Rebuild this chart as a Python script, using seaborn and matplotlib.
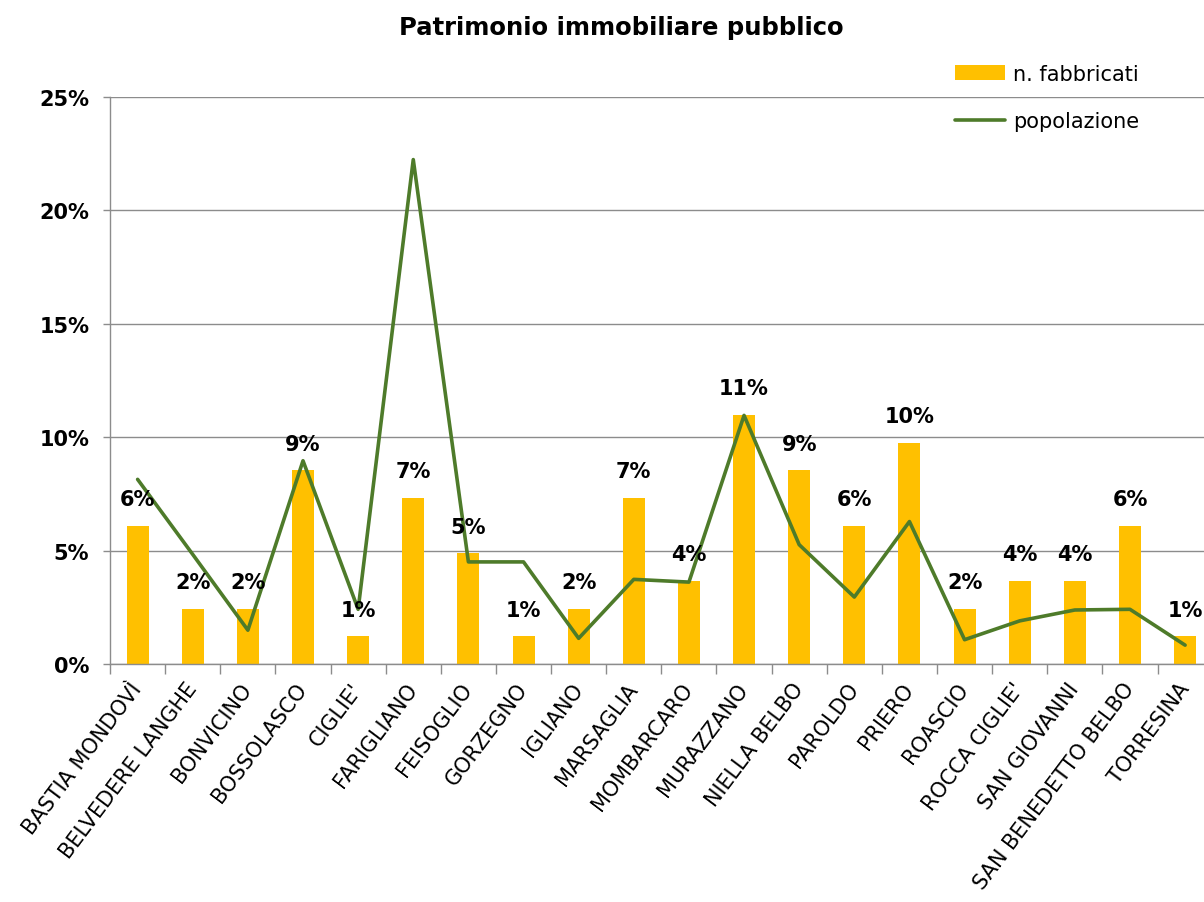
import numpy as np
import pandas as pd
import matplotlib
matplotlib.use("Agg")
import matplotlib.pyplot as plt
import seaborn as sns
from matplotlib.patches import Patch
from matplotlib.lines import Line2D

# ---- data (percent shares) ----
comuni = ["BASTIA MONDOVÌ", "BELVEDERE LANGHE", "BONVICINO", "BOSSOLASCO",
          "CIGLIE'", "FARIGLIANO", "FEISOGLIO", "GORZEGNO", "IGLIANO",
          "MARSAGLIA", "MOMBARCARO", "MURAZZANO", "NIELLA BELBO", "PAROLDO",
          "PRIERO", "ROASCIO", "ROCCA CIGLIE'", "SAN GIOVANNI",
          "SAN BENEDETTO BELBO", "TORRESINA"]
fabbricati = [6.10, 2.44, 2.44, 8.54, 1.22, 7.32, 4.88, 1.22, 2.44, 7.32,
              3.66, 10.98, 8.54, 6.10, 9.76, 2.44, 3.66, 3.66, 6.10, 1.22]
popolazione = [8.14, 4.83, 1.49, 8.96, 2.41, 22.24, 4.50, 4.50, 1.13, 3.73,
               3.61, 10.96, 5.26, 2.95, 6.28, 1.07, 1.90, 2.38, 2.41, 0.83]
y_ticks = [0, 5, 10, 15, 20, 25]

BAR_COL = "#FFC000"
LINE_COL = "#4E7B2A"
GRID_COL = "#8C8C8C"

sns.set_theme(style="white")
plt.rcParams["font.family"] = ["DejaVu Sans"]
plt.rcParams["text.color"] = "black"
plt.rcParams["xtick.color"] = "black"
plt.rcParams["ytick.color"] = "black"

df = pd.DataFrame({"comune": comuni, "fabbricati": fabbricati,
                   "popolazione": popolazione})
n = len(df)

fig = plt.figure(figsize=(12.04, 9.03), dpi=100)
ax = fig.add_axes([0.0914, 0.2636, 0.9158, 0.6279])

sns.barplot(data=df, x="comune", y="fabbricati", color=BAR_COL, saturation=1,
            width=0.4, linewidth=0, ax=ax, zorder=2)
sns.lineplot(x=np.arange(n), y=df["popolazione"], color=LINE_COL,
             linewidth=2.6, ax=ax, zorder=3)

# data labels on the bars
for i, v in enumerate(df["fabbricati"]):
    ax.annotate(f"{round(v)}%", (i, v), xytext=(0, 12), textcoords="offset points",
                ha="center", va="bottom", fontsize=15, fontweight="bold",
                color="black", zorder=4)

# axes styling
ax.set_xlim(-0.5, n - 0.5)
ax.set_ylim(0, 25)
ax.set_yticks(y_ticks)
ax.set_yticklabels([f"{t}%" for t in y_ticks], fontsize=15, fontweight="bold")
ax.yaxis.grid(True, color=GRID_COL, linewidth=1)
ax.set_axisbelow(True)
ax.set_xlabel("")
ax.set_ylabel("")

ax.set_xticks(np.arange(n))
ax.set_xticklabels(comuni, rotation=53, ha="right", va="center",
                   rotation_mode="anchor", fontsize=15)
ax.set_xticks(np.arange(n + 1) - 0.5, minor=True)
ax.tick_params(axis="x", which="major", length=0, pad=15)
ax.tick_params(axis="x", which="minor", length=7, color=GRID_COL, width=1,
               direction="out", bottom=True)
ax.tick_params(axis="y", length=5, color=GRID_COL, width=1, direction="out",
               left=True, pad=10)

for side in ["top", "right"]:
    ax.spines[side].set_visible(False)
for side in ["left", "bottom"]:
    ax.spines[side].set_color(GRID_COL)
    ax.spines[side].set_linewidth(1)

# legend
handles = [Patch(facecolor=BAR_COL, edgecolor="none"),
           Line2D([0], [0], color=LINE_COL, linewidth=2.6)]
fig.legend(handles, ["n. fabbricati", "popolazione"], loc="upper left",
           bbox_to_anchor=(0.778, 0.949), frameon=False, fontsize=15,
           handlelength=2.4, handletextpad=0.35, labelspacing=1.3)

fig.text(0.516, 0.969, "Patrimonio immobiliare pubblico", ha="center",
         va="center", fontsize=17.5, fontweight="bold")

fig.savefig("out.png", dpi=100)
